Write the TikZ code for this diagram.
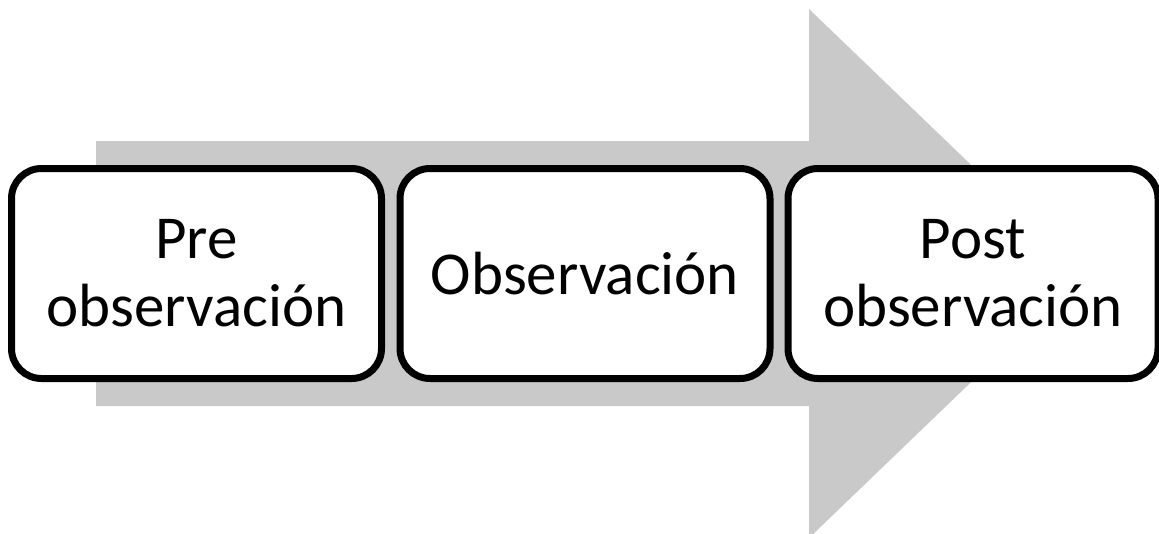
\documentclass[tikz,border=0pt]{standalone}
\usepackage{fontspec}
\setmainfont{Carlito}
\usetikzlibrary{shadows}
\definecolor{arrowgray}{HTML}{C9C9C9}
\tikzset{
  stagebox/.style={draw=black, line width=7pt, fill=white, rounded corners=30pt,
    minimum width=370pt, minimum height=210pt, align=center, inner sep=0pt,
    font=\fontsize{61}{68}\selectfont,
    drop shadow={shadow xshift=2pt, shadow yshift=-3pt, opacity=0.25, fill=black, draw=none}},
}
\begin{document}
\begin{tikzpicture}[x=1pt, y=-1pt]
  \useasboundingbox (0,0) rectangle (1159,533);
  \fill[white] (0,0) rectangle (1159,533);
  \begin{scope}
    \clip (0,0) rectangle (1159,533);
    \fill[arrowgray] (96,141) -- (809,141) -- (809,9) -- (1084,273.5) -- (809,538)
      -- (809,406) -- (96,406) -- cycle;
  \end{scope}
  \node[stagebox] (pre) at (196.5,273.5) {Pre\\observación};
  \node[stagebox] (obs) at (585,273.5) {Observación};
  \node[stagebox] (post) at (973,273.5) {Post\\observación};
\end{tikzpicture}
\end{document}
